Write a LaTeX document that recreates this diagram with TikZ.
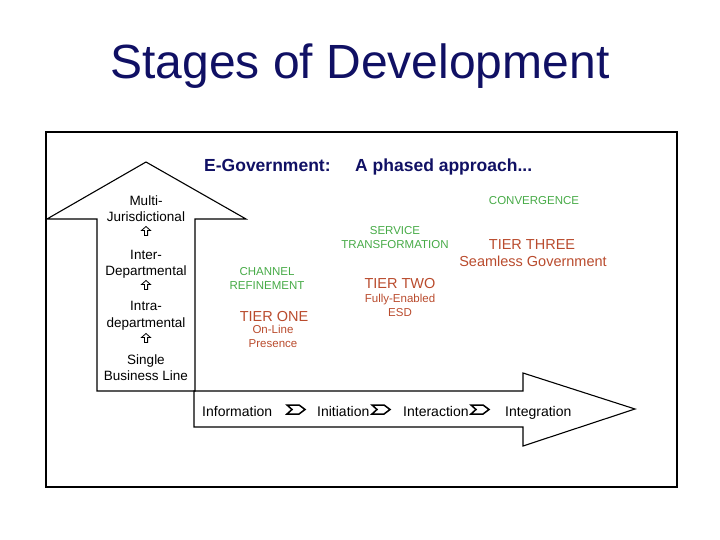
\documentclass[tikz,border=0pt]{standalone}
\usepackage{fontspec}
\setmainfont{Liberation Sans}
\definecolor{navy}{RGB}{16,16,100}
\definecolor{phasegreen}{RGB}{70,170,70}
\definecolor{tierbrown}{RGB}{185,75,45}
\tikzset{
  stage/.style={font=\fontsize{13.5}{16.5}\selectfont, align=center, inner sep=0pt, anchor=base},
  phase/.style={font=\fontsize{11.5}{13.5}\selectfont, text=phasegreen, align=center, inner sep=0pt, anchor=base},
  tier/.style={font=\fontsize{14.5}{17}\selectfont, text=tierbrown, inner sep=0pt, anchor=base},
  tiernote/.style={font=\fontsize{11.5}{13.5}\selectfont, text=tierbrown, align=center, inner sep=0pt, anchor=base},
  level/.style={font=\fontsize{14}{17}\selectfont, inner sep=0pt, anchor=base west},
  outline/.style={line width=1.1pt, line join=miter}
}

\begin{document}
\begin{tikzpicture}[x=1pt,y=-1pt]
  \useasboundingbox (0,0) rectangle (720,540);
  \node[font=\fontsize{48}{52}\selectfont, text=navy, anchor=base] (title) at (360,79) {Stages of Development};
  \draw[outline] (46,132) rectangle (677,487);
  \draw[outline] (97,391) -- (97,219) -- (47,219) -- (146,162) -- (246,219) -- (195,219) -- (195,391) -- cycle;
  \draw[outline] (194,391) -- (523,391) -- (523,373) -- (635,409) -- (523,446) -- (523,427) -- (194,427) -- cycle;

  \node[font=\fontsize{17.5}{20}\selectfont\bfseries, text=navy, anchor=base west, inner sep=0pt] (egov) at (204,172) {E-Government:};
  \node[font=\fontsize{17.5}{20}\selectfont\bfseries, text=navy, anchor=base west, inner sep=0pt] (phased) at (355,172) {A phased approach...};

  \node[stage] (multi) at (146,222) {Multi-\\Jurisdictional};
  \node[stage] (inter) at (146,275.5) {Inter-\\Departmental};
  \node[stage] (intra) at (146,327) {Intra-\\departmental};
  \node[stage] (single) at (146,380.5) {Single\\Business Line};
  \foreach \y in {231,285,338}{
    \begin{scope}[shift={(146,\y)}]
      \draw[line width=0.8pt] (0,-4.5) -- (4.5,-0.5) -- (1.6,-0.5) -- (1.6,4.5) -- (-1.6,4.5) -- (-1.6,-0.5) -- (-4.5,-0.5) -- cycle;
    \end{scope}
  }

  \node[phase] (channel) at (267,289) {CHANNEL\\REFINEMENT};
  \node[tier] (tierone) at (274,321) {TIER ONE};
  \node[tiernote] (online) at (273,347) {On-Line\\Presence};

  \node[phase, font=\fontsize{11.5}{14}\selectfont] (service) at (395,248) {SERVICE\\TRANSFORMATION};
  \node[tier] (tiertwo) at (400,288) {TIER TWO};
  \node[tiernote, font=\fontsize{11.5}{14}\selectfont] (fully) at (400,316) {Fully-Enabled\\ESD};

  \node[phase] (convergence) at (534,205) {CONVERGENCE};
  \node[tier] (tierthree) at (532,249) {TIER THREE};
  \node[tier] (seamless) at (533,266) {Seamless Government};

  \node[level] (information) at (202,416) {Information};
  \node[level] (initiation) at (317,416) {Initiation};
  \node[level] (interaction) at (403,416) {Interaction};
  \node[level] (integration) at (505,416) {Integration};
  \foreach \x in {287,372,471}{
    \begin{scope}[shift={(\x,409.5)}]
      \draw[line width=1.5pt] (0,-4.5) -- (12,-4.5) -- (18,0) -- (12,4.5) -- (0,4.5) -- (5,0) -- cycle;
    \end{scope}
  }
\end{tikzpicture}
\end{document}
